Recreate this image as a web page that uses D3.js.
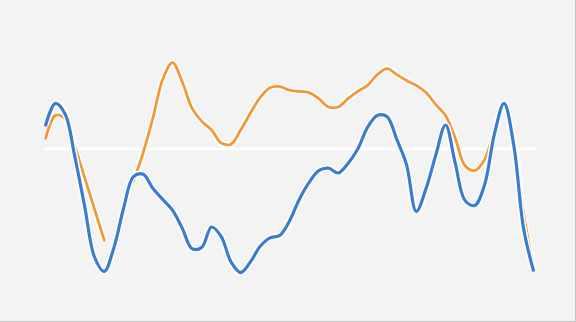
<!DOCTYPE html>
<html>
<head>
<meta charset="utf-8">
<script src="https://cdn.jsdelivr.net/npm/d3@7"></script>
<style>
	html, body { margin: 0; padding: 0; background: #f3f3f3; }
	svg { display: block; }
</style>
</head>
<body>
<svg id="canvas" width="576" height="322"></svg>
<script>
// values, one per step (0..50), white line is zero
var steps = d3.range(0, 51);

var blue = [20, 38, 29, -7, -48, -90, -102, -82, -49, -23, -21, -33, -42, -51, -66, -83,
	-82, -65, -73, -94, -103, -94, -81, -74, -72, -60, -42, -28, -18, -16, -20, -12,
	0, 18, 28, 27, 8, -13, -52, -33, -5, 20, -12, -43, -47, -30, 12, 38, 3, -66, -101];

var orange = [9, 28, 25, 2, -24, -50, -76, null, null, -27, -3, 26, 58, 72, 56, 34,
	23, 16, 5, 4, 16, 30, 43, 51, 52, 49, 48, 47, 42, 35, 35, 42,
	48, 53, 62, 67, 62, 57, 53, 47, 37, 28, 9, -14, -18, -9, 16, 38, 8, -53, -98];

var series = [
	{ name: "orange", values: orange, color: "#f0993b", width: 2.8 },
	{ name: "blue", values: blue, color: "#3a7dcc", width: 3.2 }
];

function draw() {
	var svg = d3.select("#canvas");
	var x = d3.scaleLinear().domain([0, 50]).range([45.7, 533.3]);
	var y = d3.scaleLinear().domain([-100, 100]).range([269, 29]);

	svg.append("rect")
		.attr("width", 576).attr("height", 322)
		.attr("fill", "#f3f3f3");

	// right and bottom edge
	svg.append("path")
		.attr("d", "M575.5,0V321.5H0")
		.attr("style", "stroke: #c4c4c4; stroke-width: 1; fill: none;");

	// zero line
	svg.append("line")
		.attr("x1", x(0) - 1).attr("x2", x(50) + 2)
		.attr("y1", y(0)).attr("y2", y(0))
		.attr("style", "stroke: #ffffff; stroke-width: 3;");

	var line = d3.line()
		.defined(function(d){ return d[1] != null; })
		.x(function(d){ return x(d[0]); })
		.y(function(d){ return y(d[1]); })
		.curve(d3.curveCatmullRom.alpha(0.5));

	series.forEach(function(s){
		var pts = steps.map(function(i){ return [i, s.values[i]]; });
		// white halo under each line
		svg.append("path")
			.attr("d", line(pts))
			.attr("style", "stroke: #ffffff; stroke-width: " + (s.width + 3) + "; stroke-linejoin: round; fill: none;");
		svg.append("path")
			.attr("class", s.name)
			.attr("d", line(pts))
			.attr("style", "stroke: " + s.color + "; stroke-width: " + s.width + "; stroke-linejoin: round; stroke-linecap: round; fill: none;");
	});
}

draw();
</script>
</body>
</html>
